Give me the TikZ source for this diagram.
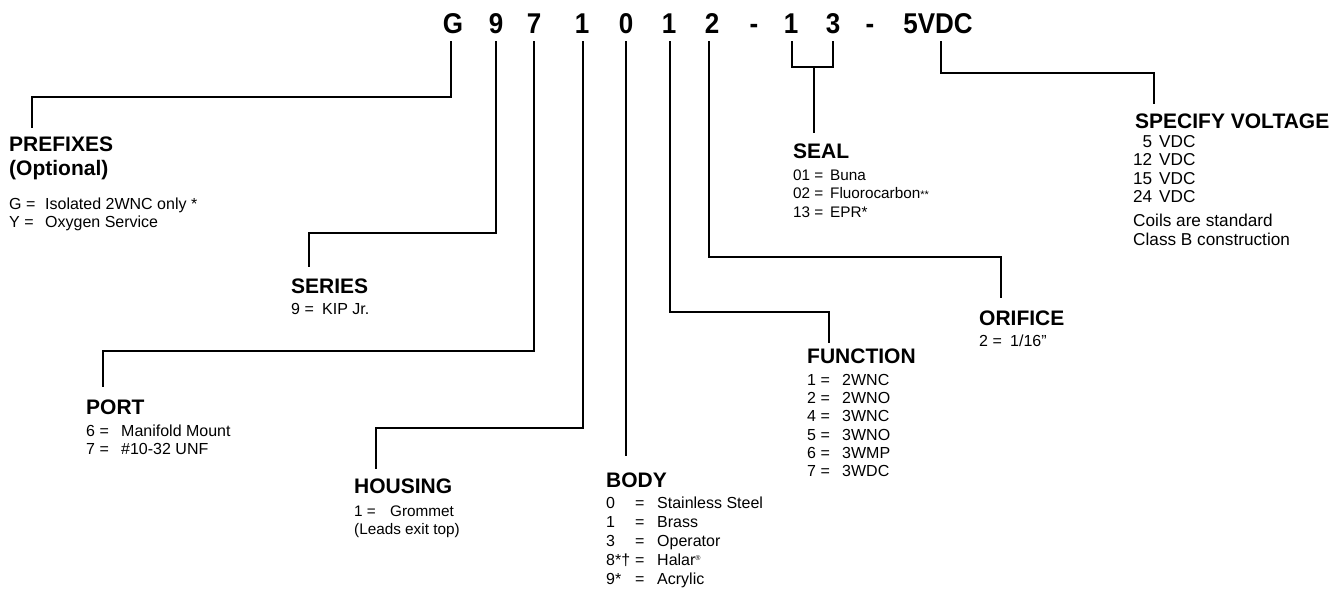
\documentclass[tikz,border=0pt]{standalone}
\usepackage{fontspec}
\setmainfont{Liberation Sans}
\newcommand{\codechar}[1]{\scalebox{1}[1.1]{#1}}
\begin{document}
\begin{tikzpicture}[x=1pt,y=-1pt,
  conn/.style={line width=1.8pt, line join=miter, line cap=rect},
  code/.style={font=\fontsize{26}{30}\selectfont\bfseries, anchor=base, inner sep=0pt},
  ttl/.style={font=\fontsize{21}{24}\selectfont\bfseries, anchor=base west, inner sep=0pt},
  bd/.style={font=\fontsize{16}{19}\selectfont, anchor=base west, inner sep=0pt},
  bds/.style={font=\fontsize{15.3}{18}\selectfont, anchor=base west, inner sep=0pt},
  bdl/.style={font=\fontsize{17.2}{19}\selectfont, anchor=base west, inner sep=0pt}]
\fill[white] (0,0) rectangle (1336,590);
\useasboundingbox (0,0) rectangle (1336,590);

% code characters
\node[code] (cG) at (453,33) {\codechar{G}};
\node[code] (c9) at (496,33) {\codechar{9}};
\node[code] (c7) at (534,33) {\codechar{7}};
\node[code] (c1a) at (582,33) {\codechar{1}};
\node[code] (c0) at (626,33) {\codechar{0}};
\node[code] (c1b) at (669,33) {\codechar{1}};
\node[code] (c2) at (712,33) {\codechar{2}};
\node[code] (cd1) at (754,33) {\codechar{-}};
\node[code] (c1c) at (791,33) {\codechar{1}};
\node[code] (c3) at (833,33) {\codechar{3}};
\node[code] (cd2) at (870,33) {\codechar{-}};
\node[code] (cV) at (938,33) {\codechar{5VDC}};

% tick starts
\coordinate (tG) at (451,42);
\coordinate (t9) at (496,42);
\coordinate (t7) at (534,42);
\coordinate (t1a) at (583,42);
\coordinate (t0) at (626,42);
\coordinate (t1b) at (670,42);
\coordinate (t2) at (709,42);
\coordinate (t1c) at (792,42);
\coordinate (t3) at (833,42);
\coordinate (tV) at (941,42);
% ends
\coordinate (kG) at (32,127);
\coordinate (k9) at (309,266);
\coordinate (k7) at (103,386);
\coordinate (k1a) at (376,468);
\coordinate (k0) at (626,455);
\coordinate (k1b) at (829,342);
\coordinate (k2) at (1001,297);
\coordinate (sm) at (814,67);
\coordinate (kS) at (814,132);
\coordinate (kV) at (1154,103);

\draw[conn] (tG) -- ++(0,55) -| (kG);
\draw[conn] (t9) -- ++(0,191) -| (k9);
\draw[conn] (t7) -- ++(0,309) -| (k7);
\draw[conn] (t1a) -- ++(0,386) -| (k1a);
\draw[conn] (t0) -- (k0);
\draw[conn] (t1b) -- ++(0,270) -| (k1b);
\draw[conn] (t2) -- ++(0,215) -| (k2);
\draw[conn] (t1c) |- (sm) -| (t3);
\draw[conn] (sm) -- (kS);
\draw[conn] (tV) -- ++(0,31) -| (kV);

% PREFIXES
\node[ttl] (preT) at (9,151) {PREFIXES};
\node[ttl] (preO) at (9,175) {(Optional)};
\node[bd] (preG) at (9,209) {\makebox[36pt][l]{G =}Isolated 2WNC only *};
\node[bd] (preY) at (9,227) {\makebox[36pt][l]{Y =}Oxygen Service};

% SERIES
\node[ttl] (serT) at (291,293) {SERIES};
\node[bd] (ser9) at (291,314) {\makebox[31pt][l]{9 =}KIP Jr.};

% PORT
\node[ttl] (porT) at (86,414) {PORT};
\node[bd] (por6) at (86,436) {\makebox[35pt][l]{6 =}Manifold Mount};
\node[bd] (por7) at (86,454) {\makebox[35pt][l]{7 =}\#10-32 UNF};

% HOUSING
\node[ttl] (houT) at (354,493) {HOUSING};
\node[bds] (hou1) at (354,516) {\makebox[36pt][l]{1 =}Grommet};
\node[bds] (hou2) at (354,534) {(Leads exit top)};

% BODY
\node[ttl] (bodT) at (606,487) {BODY};
\node[bd] (bod0) at (606,508) {\makebox[29pt][l]{0}\makebox[22pt][l]{=}Stainless Steel};
\node[bd] (bod1) at (606,527) {\makebox[29pt][l]{1}\makebox[22pt][l]{=}Brass};
\node[bd] (bod3) at (606,546.5) {\makebox[29pt][l]{3}\makebox[22pt][l]{=}Operator};
\node[bd] (bod8) at (606,565.5) {\makebox[29pt][l]{8*\textdagger}\makebox[22pt][l]{=}Halar\raisebox{5pt}{\fontsize{7}{8}\selectfont\textregistered}};
\node[bd] (bod9) at (606,584.5) {\makebox[29pt][l]{9*}\makebox[22pt][l]{=}Acrylic};

% FUNCTION
\node[ttl] (funT) at (807,363) {FUNCTION};
\node[bd] (fun1) at (807,385) {\makebox[35pt][l]{1 =}2WNC};
\node[bd] (fun2) at (807,403.3) {\makebox[35pt][l]{2 =}2WNO};
\node[bd] (fun4) at (807,421.7) {\makebox[35pt][l]{4 =}3WNC};
\node[bd] (fun5) at (807,440) {\makebox[35pt][l]{5 =}3WNO};
\node[bd] (fun6) at (807,458.3) {\makebox[35pt][l]{6 =}3WMP};
\node[bd] (fun7) at (807,476.7) {\makebox[35pt][l]{7 =}3WDC};

% ORIFICE
\node[ttl] (oriT) at (979,325) {ORIFICE};
\node[bd] (ori2) at (979,346) {\makebox[31pt][l]{2 =}1/16"};

% SEAL
\node[ttl] (seaT) at (793,158) {SEAL};
\node[bds] (sea1) at (793,180) {\makebox[37pt][l]{01 =}Buna};
\node[bds] (sea2) at (793,198.5) {\makebox[37pt][l]{02 =}Fluorocarbon{\fontsize{11}{12}\selectfont**}};
\node[bds] (sea3) at (793,217) {\makebox[37pt][l]{13 =}EPR*};

% SPECIFY VOLTAGE
\node[ttl] (volT) at (1135,128) {SPECIFY VOLTAGE};
\node[bdl] (vol5) at (1133,147.3) {\makebox[19pt][r]{5}\hspace{7pt}VDC};
\node[bdl] (vol12) at (1133,165.7) {\makebox[19pt][r]{12}\hspace{7pt}VDC};
\node[bdl] (vol15) at (1133,184.3) {\makebox[19pt][r]{15}\hspace{7pt}VDC};
\node[bdl] (vol24) at (1133,202.7) {\makebox[19pt][r]{24}\hspace{7pt}VDC};
\node[bdl] (volC) at (1133,226.7) {Coils are standard};
\node[bdl] (volB) at (1133,245) {Class B construction};
\end{tikzpicture}
\end{document}
